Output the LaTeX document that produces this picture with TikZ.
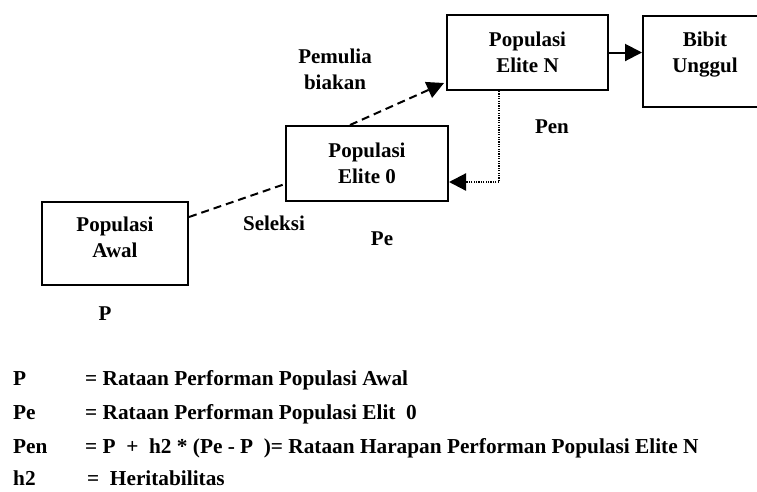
\documentclass[tikz,border=0pt]{standalone}
\usepackage{fontspec}
\setmainfont{Liberation Serif}
\usetikzlibrary{arrows.meta}
\begin{document}
\begin{tikzpicture}[x=1pt,y=-1pt,
  every node/.style={font=\fontsize{21}{26}\selectfont\bfseries, inner sep=0pt},
  boxst/.style={draw, line width=2pt},
  txt/.style={align=center},
  leg/.style={font=\fontsize{21.3}{26}\selectfont\bfseries, anchor=base west},
  dashline/.style={line width=2pt, dash pattern=on 8pt off 5pt},
  dotline/.style={line width=2.2pt, dash pattern=on 1.2pt off 1.2pt},
  tipst/.style={-{Triangle[length=17pt,width=17pt]}}
]
\useasboundingbox (0,0) rectangle (757,491);

% boxes
\node[boxst, minimum width=146pt, minimum height=83pt] (awal) at (115,243.5) {};
\node[txt] (awaltxt) at ([yshift=6pt]awal.center) {Populasi\\Awal};
\node[boxst, minimum width=162pt, minimum height=75pt, txt] (elite0) at (367,163.5) {Populasi\\Elite 0};
\node[boxst, minimum width=161pt, minimum height=75pt, txt] (eliteN) at (527.5,52.5) {Populasi\\Elite N};
\node[boxst, minimum width=150pt, minimum height=91pt] (bibit) at (718,61.5) {};
\node[txt] (bibittxt) at (705,55) {Bibit\\Unggul};

% connectors
\draw[dashline] ([yshift=-16pt]awal.north east) -- ([yshift=18pt]elite0.south west);
\draw[dashline, tipst] ([xshift=-17pt]elite0.north) -- ([shift={(-2pt,8pt)}]eliteN.south west);
\draw[line width=2pt, tipst] (eliteN.east) -- (eliteN.east -| bibit.west);
\draw[dotline, tipst] ([xshift=-28.5pt]eliteN.south) |- ([yshift=-18.5pt]elite0.east);

% labels
\node[txt] (pemulia) at (335,69) {Pemulia\\biakan};
\node[anchor=base] (seleksi) at (274,230) {Seleksi};
\node[anchor=base] (pe) at (382,245) {Pe};
\node[anchor=base] (pen) at (552,133) {Pen};
\node[anchor=base] (p) at (105,320) {P};

% legend
\node[leg] (l1a) at (13,385) {P};
\node[leg] (l1b) at (85,385) {= Rataan Performan Populasi Awal};
\node[leg] (l2a) at (13,419) {Pe};
\node[leg] (l2b) at (85,419) {= Rataan Performan Populasi Elit~~0};
\node[leg] (l3a) at (13,453) {Pen};
\node[leg] (l3b) at (85,453) {= P~~+~~h2 * (Pe - P~~)= Rataan Harapan Performan Populasi Elite N};
\node[leg] (l4a) at (13,485) {h2};
\node[leg] (l4b) at (87,485) {=~~Heritabilitas};
\end{tikzpicture}
\end{document}
